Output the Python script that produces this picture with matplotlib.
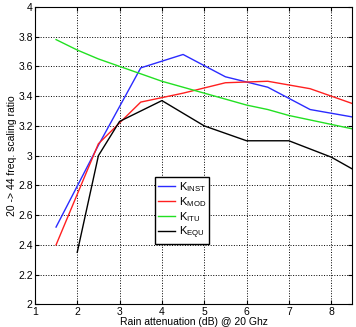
import matplotlib
matplotlib.use("Agg")
import matplotlib.pyplot as plt
from matplotlib.ticker import FuncFormatter

plt.rcParams['font.family'] = ['Liberation Sans', 'DejaVu Sans']

x_inst = [1.5, 2.5, 3.5, 4.5, 5.5, 6.5, 7.5, 8.5]
k_inst = [2.52, 3.07, 3.59, 3.68, 3.53, 3.46, 3.31, 3.26]

x_mod = [1.5, 2.5, 3.5, 4.0, 4.5, 5.5, 6.5, 7.5, 8.5]
k_mod = [2.40, 3.08, 3.36, 3.39, 3.42, 3.49, 3.50, 3.45, 3.35]

x_itu = [1.5, 2.0, 2.5, 3.0, 3.5, 4.0, 4.5, 5.0, 5.5, 6.0, 6.5, 7.0, 7.5, 8.0, 8.5]
k_itu = [3.78, 3.71, 3.65, 3.60, 3.55, 3.50, 3.46, 3.42, 3.38, 3.34, 3.31, 3.27, 3.24, 3.21, 3.18]

x_equ = [2.0, 2.5, 3.0, 4.0, 5.0, 6.0, 7.0, 8.0, 8.5]
k_equ = [2.35, 3.00, 3.23, 3.37, 3.20, 3.10, 3.10, 2.99, 2.91]

fig = plt.figure(figsize=(3.56, 3.27), dpi=100)
ax = fig.add_axes([0.098, 0.069, 0.892, 0.910])

ax.plot(x_inst, k_inst, color='#2b2bff', lw=1, label=r'K$_{\mathregular{INST}}$')
ax.plot(x_mod, k_mod, color='#ff2020', lw=1, label=r'K$_{\mathregular{MOD}}$')
ax.plot(x_itu, k_itu, color='#22e022', lw=1, label=r'K$_{\mathregular{ITU}}$')
ax.plot(x_equ, k_equ, color='black', lw=1, label=r'K$_{\mathregular{EQU}}$')

ax.set_xlim(1, 8.5)
ax.set_ylim(2, 4)
ax.set_xticks(range(1, 9))
ax.set_yticks([2 + 0.2 * i for i in range(11)])
ax.yaxis.set_major_formatter(FuncFormatter(lambda v, p: '%g' % round(v, 1)))
ax.tick_params(direction='in', labelsize=7.5, length=3, top=True, right=True, pad=1.5)
ax.grid(True, linestyle=':', color='black', lw=0.7)

ax.set_xlabel('Rain attenuation (dB) @ 20 Ghz', fontsize=7.5, labelpad=0)
ax.set_ylabel('20 -> 44 freq. scaling ratio', fontsize=7.5, labelpad=1)

ax.legend(loc='lower left', bbox_to_anchor=(0.36, 0.185), fontsize=8, frameon=True,
          fancybox=False, edgecolor='black', handlelength=1.6, borderpad=0.25,
          labelspacing=0.1, handletextpad=0.3, framealpha=1)

fig.savefig('out.png', dpi=100)
